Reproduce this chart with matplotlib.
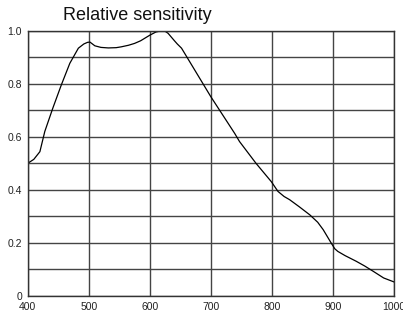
import matplotlib
matplotlib.use("Agg")
import matplotlib.pyplot as plt
from matplotlib.ticker import MultipleLocator

plt.rcParams['font.family'] = ['Liberation Sans', 'DejaVu Sans']

wavelength = [400, 410, 420, 428, 441, 455, 469, 483, 492, 498, 502, 510, 520, 532, 545, 553,
              565, 575, 585, 600, 610, 619, 625, 630, 640, 645, 652, 700, 739, 747, 774, 799,
              810, 820, 829, 845, 862, 875, 884, 897, 903, 908, 920, 938, 952, 966, 983, 1000]
sensitivity = [0.50, 0.515, 0.544, 0.62, 0.707, 0.795, 0.877, 0.934, 0.950, 0.956, 0.957, 0.943,
               0.937, 0.935, 0.936, 0.939, 0.945, 0.952, 0.962, 0.983, 0.995, 1.0, 0.998, 0.99,
               0.963, 0.950, 0.934, 0.751, 0.613, 0.582, 0.50, 0.431, 0.394, 0.375, 0.363, 0.336,
               0.306, 0.278, 0.25, 0.20, 0.178, 0.168, 0.152, 0.131, 0.113, 0.093, 0.068, 0.053]

xticks = [400, 500, 600, 700, 800, 900, 1000]
yticks = [0, 0.2, 0.4, 0.6, 0.8, 1.0]
yticklabels = ['0', '0.2', '0.4', '0.6', '0.8', '1.0']

fig = plt.figure(figsize=(4.03, 3.16), dpi=100)
ax = fig.add_axes([0.0687, 0.0633, 0.909, 0.8396])
ax.plot(wavelength, sensitivity, color='black', linewidth=0.9)
ax.set_xlim(400, 1000)
ax.set_ylim(0, 1.0)
ax.set_xticks(xticks)
ax.set_xticklabels([str(v) for v in xticks])
ax.set_yticks(yticks)
ax.set_yticklabels(yticklabels)
ax.yaxis.set_minor_locator(MultipleLocator(0.1))
ax.grid(True, which='both', color='#444444', linewidth=1.0)
ax.tick_params(which='both', length=0, labelsize=7.5, colors='#222222')
ax.tick_params(axis='x', pad=4.5)
ax.tick_params(axis='y', pad=4)
for s in ax.spines.values():
    s.set_color('#333333')
    s.set_linewidth(1.0)
fig.text(0.157, 0.937, 'Relative sensitivity', fontsize=13, color='#111111',
         va='baseline', ha='left')
fig.savefig('out.png', dpi=100)
